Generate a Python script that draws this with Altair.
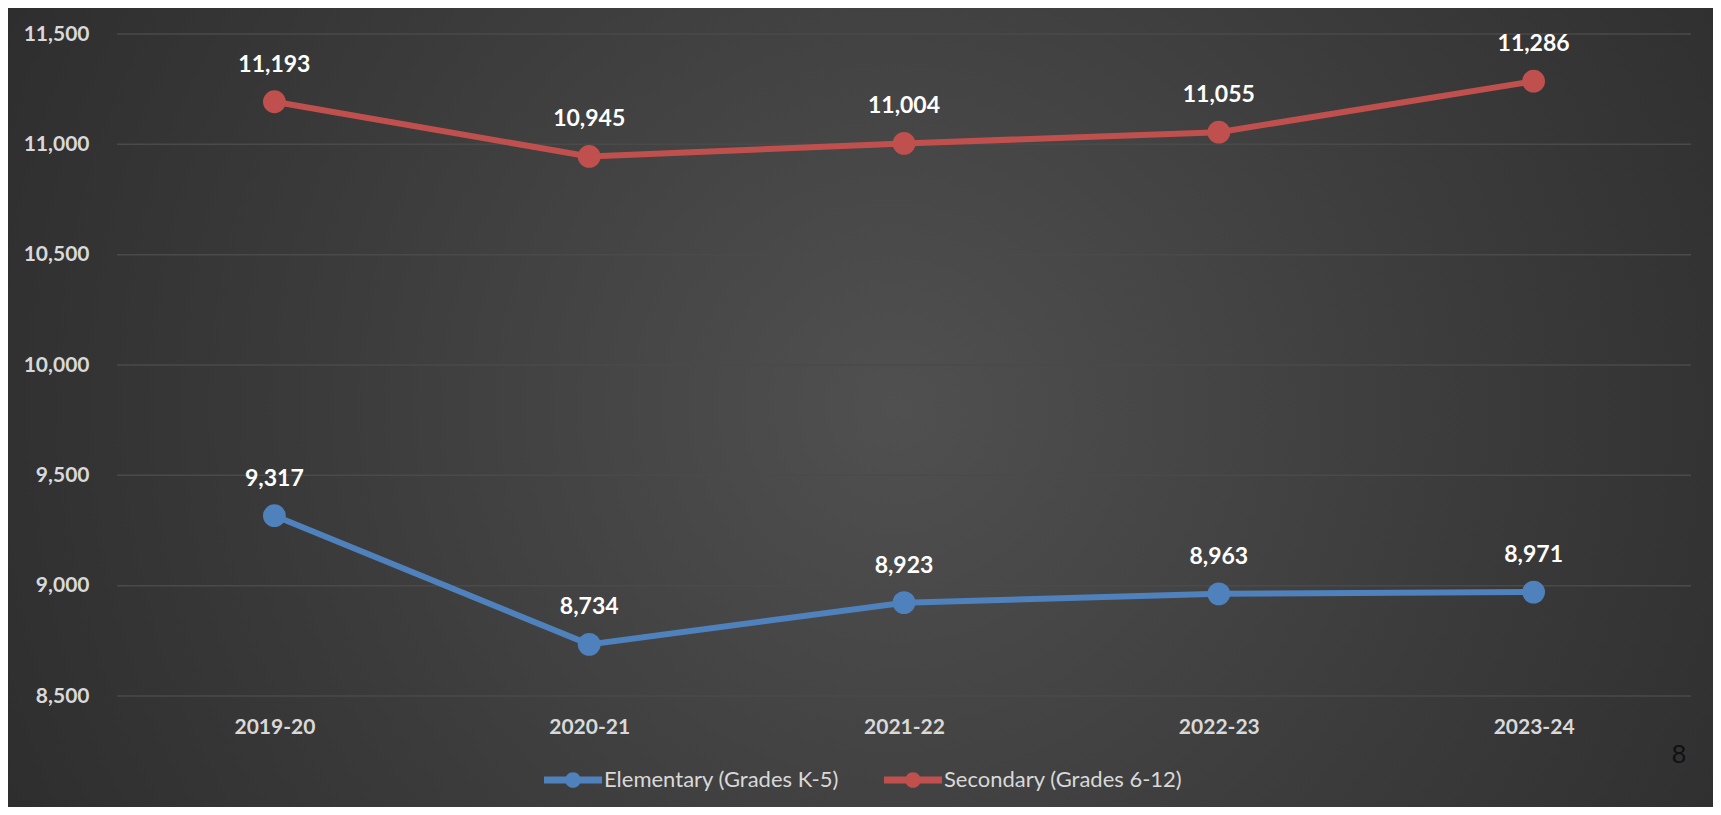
import altair as alt
import pandas as pd

categories = ["2019-20", "2020-21", "2021-22", "2022-23", "2023-24"]
elementary = [9317, 8734, 8923, 8963, 8971]
secondary = [11193, 10945, 11004, 11055, 11286]
series_names = ["Elementary (Grades K-5)", "Secondary (Grades 6-12)"]
series_colors = ["#4f81bd", "#c0504d"]
y_ticks = [8500, 9000, 9500, 10000, 10500, 11000, 11500]

rows = []
for name, vals in zip(series_names, [elementary, secondary]):
    for c, v in zip(categories, vals):
        rows.append({"Year": c, "Series": name, "Value": v})
df = pd.DataFrame(rows)
grid_df = pd.DataFrame({"Value": y_ticks})

W, H = 1574, 662
PAD = {"left": 109, "top": 26, "right": 22, "bottom": 111}

sym_path = ("M-1,-0.12 L1,-0.12 L1,0.12 L-1,0.12 Z "
            "M0,-0.27 A0.27,0.27 0 1,1 0,0.27 A0.27,0.27 0 1,1 0,-0.27 Z")

y_scale = alt.Scale(domain=[8500, 11500], nice=False, zero=False)

x_enc = alt.X("Year:N", sort=categories,
              scale=alt.Scale(type="point", padding=0.5),
              axis=alt.Axis(title=None, labelAngle=0, labelFont="Lato",
                            labelFontWeight="bold", labelFontSize=21,
                            labelColor="#d9d9d9", labelPadding=20,
                            domain=False, ticks=False, grid=False, zindex=1))
y_enc = alt.Y("Value:Q", scale=y_scale,
              axis=alt.Axis(title=None, values=y_ticks, format=",.0f",
                            labelFont="Lato", labelFontWeight="bold",
                            labelFontSize=21, labelColor="#d9d9d9",
                            labelPadding=28, domain=False, ticks=False,
                            grid=False, zindex=1))
color_enc = alt.Color("Series:N",
                      scale=alt.Scale(domain=series_names, range=series_colors),
                      legend=alt.Legend(title=None, orient="none", direction="horizontal",
                                        legendX=427, legendY=717,
                                        symbolType=sym_path, symbolSize=3364,
                                        symbolStrokeWidth=0, labelLimit=0,
                                        labelFont="Lato", labelFontSize=22,
                                        labelColor="#d9d9d9", labelOffset=2,
                                        columnPadding=45))

bg = alt.Chart(pd.DataFrame({"a": [0]})).mark_rect(
    color=alt.Gradient(
        gradient="radial",
        stops=[alt.GradientStop(color="#505050", offset=0),
               alt.GradientStop(color="#3b3b3b", offset=0.45),
               alt.GradientStop(color="#242424", offset=1)],
        x1=0.52, y1=0.5, x2=0.52, y2=0.5, r1=0, r2=0.75),
).encode(
    x=alt.value(-PAD["left"]), x2=alt.value(W + PAD["right"]),
    y=alt.value(-PAD["top"]), y2=alt.value(H + PAD["bottom"]),
)

grid = alt.Chart(grid_df).mark_rule(color="#4a4a4a", strokeWidth=1.5).encode(
    y=y_enc, x=alt.value(0), x2=alt.value(W))

base = alt.Chart(df).encode(x=x_enc, y=y_enc, color=color_enc)

lines = base.mark_line(strokeWidth=6)
points = base.mark_point(filled=True, size=520, opacity=1)
labels = alt.Chart(df).mark_text(dy=-37, font="Lato", fontWeight="bold", fontSize=23,
                                 color="white").encode(
    x=x_enc, y=y_enc, text=alt.Text("Value:Q", format=",.0f"))

page_no = alt.Chart(pd.DataFrame({"t": ["8"]})).mark_text(
    font="Liberation Sans", fontSize=26, color="#111111", align="center", baseline="middle"
).encode(text="t:N", x=alt.value(1562), y=alt.value(721))

chart = alt.layer(bg, grid, lines, points, labels, page_no).properties(
    width=W, height=H,
    autosize=alt.AutoSizeParams(type="none"),
    padding=PAD,
    background="#2a2a2a",
).configure_view(stroke=None)

chart.save("out.html", embed_options={"renderer": "svg", "actions": False})
